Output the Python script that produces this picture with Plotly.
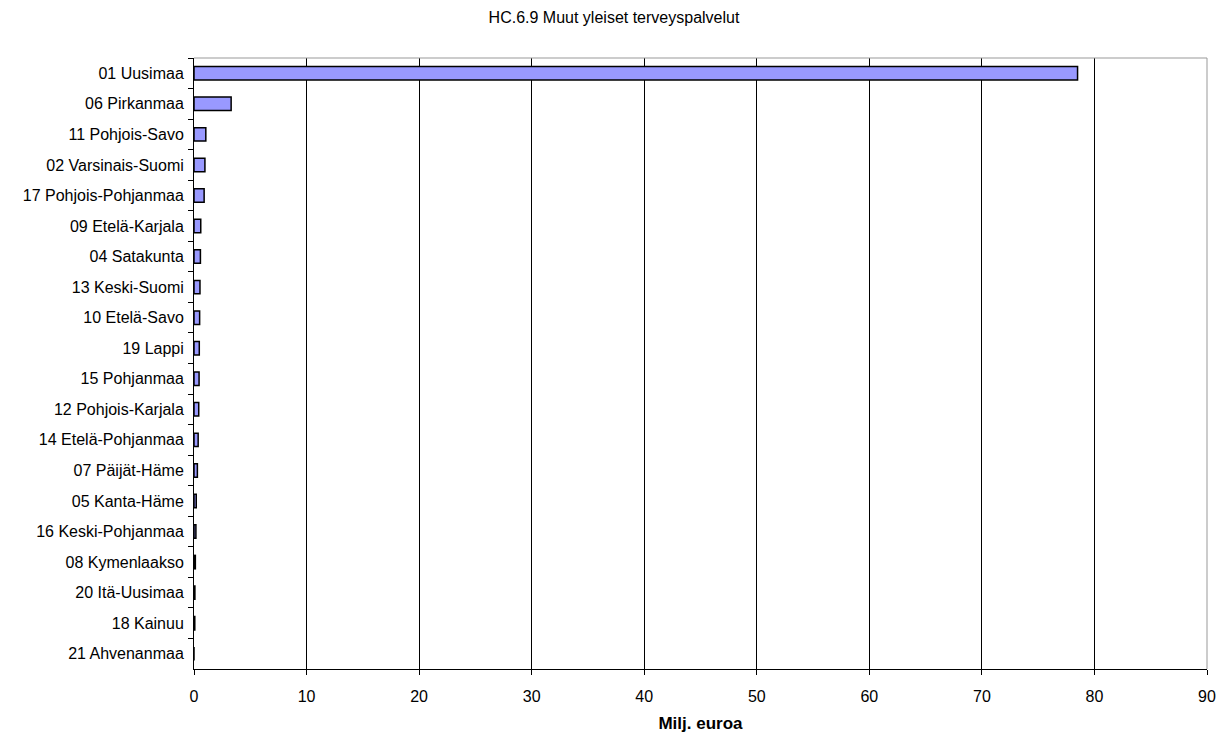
import plotly.graph_objects as go

# Regions (top to bottom) and spending in million euros
regions = [
    "01 Uusimaa", "06 Pirkanmaa", "11 Pohjois-Savo", "02 Varsinais-Suomi",
    "17 Pohjois-Pohjanmaa", "09 Etelä-Karjala", "04 Satakunta", "13 Keski-Suomi",
    "10 Etelä-Savo", "19 Lappi", "15 Pohjanmaa", "12 Pohjois-Karjala",
    "14 Etelä-Pohjanmaa", "07 Päijät-Häme", "05 Kanta-Häme", "16 Keski-Pohjanmaa",
    "08 Kymenlaakso", "20 Itä-Uusimaa", "18 Kainuu", "21 Ahvenanmaa",
]
values = [
    78.5, 3.3, 1.05, 0.97,
    0.9, 0.6, 0.57, 0.53,
    0.5, 0.47, 0.45, 0.42,
    0.37, 0.3, 0.2, 0.17,
    0.12, 0.08, 0.07, 0.0,
]
x_ticks = [0, 10, 20, 30, 40, 50, 60, 70, 80, 90]

fig = go.Figure(
    go.Bar(
        x=values,
        y=regions,
        orientation="h",
        marker=dict(color="#9999FF", line=dict(color="#000000", width=1.5)),
    )
)

font_family = "Liberation Sans, Arial, sans-serif"

fig.update_layout(
    width=1228,
    height=733,
    margin=dict(l=194, r=21, t=58, b=64),
    paper_bgcolor="white",
    plot_bgcolor="white",
    bargap=0.56,
    showlegend=False,
    font=dict(family=font_family, size=16, color="black"),
    title=dict(
        text="HC.6.9 Muut yleiset terveyspalvelut",
        x=0.5,
        xanchor="center",
        y=1 - 17 / 733,
        yanchor="middle",
        font=dict(family=font_family, size=16, color="black"),
    ),
    shapes=[
        # gray frame on top and right edges of the plot area
        dict(type="line", xref="paper", yref="paper", x0=0, x1=1, y0=1, y1=1,
             line=dict(color="#999999", width=1)),
        dict(type="line", xref="paper", yref="paper", x0=1, x1=1, y0=0, y1=1,
             line=dict(color="#999999", width=1)),
    ],
)

fig.update_xaxes(
    range=[0, 90],
    tickvals=x_ticks,
    automargin=False,
    showgrid=True,
    gridcolor="black",
    gridwidth=1,
    zeroline=False,
    showline=True,
    linecolor="black",
    linewidth=1,
    ticks="outside",
    ticklen=5,
    tickcolor="black",
    tickfont=dict(size=16),
    ticklabelstandoff=8,
    title=dict(text="<b>Milj. euroa</b>", font=dict(size=17), standoff=16),
)

fig.update_yaxes(
    categoryorder="array",
    categoryarray=regions,
    autorange="reversed",
    automargin=False,
    showgrid=False,
    showline=True,
    linecolor="black",
    linewidth=1,
    ticks="outside",
    tickson="boundaries",
    ticklen=5,
    tickcolor="black",
    tickfont=dict(size=16),
    ticklabelstandoff=6,
)

fig.write_html("out.html")
